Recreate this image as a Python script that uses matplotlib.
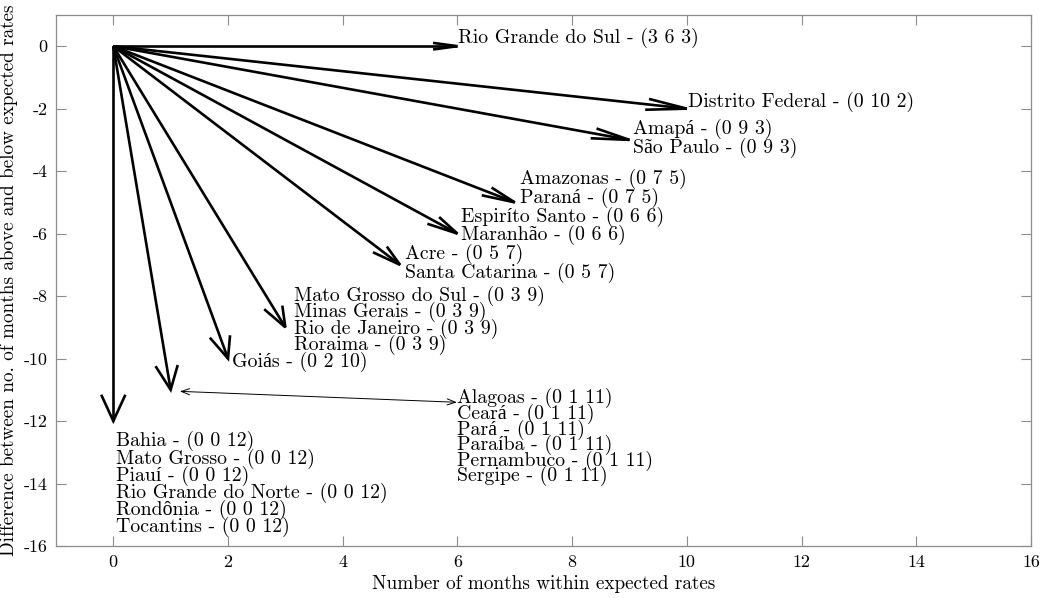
import matplotlib
matplotlib.use("Agg")
import matplotlib.pyplot as plt
from matplotlib.patches import FancyArrowPatch

plt.rcParams['font.family'] = ['cmr10', 'Liberation Serif']
plt.rcParams['axes.unicode_minus'] = False
plt.rcParams['mathtext.fontset'] = 'cm'

# ---- data: (months above, within, below expected rates) ----
states = ["Rio Grande do Sul", "Distrito Federal", "Amapá", "São Paulo",
          "Amazonas", "Paraná", "Espiríto Santo", "Maranhão", "Acre",
          "Santa Catarina", "Mato Grosso do Sul", "Minas Gerais",
          "Rio de Janeiro", "Roraima", "Goiás", "Alagoas", "Ceará", "Pará",
          "Paraíba", "Pernambuco", "Sergipe", "Bahia", "Mato Grosso", "Piauí",
          "Rio Grande do Norte", "Rondônia", "Tocantins"]
above = [3, 0, 0, 0, 0, 0, 0, 0, 0, 0, 0, 0, 0, 0, 0, 0, 0, 0, 0, 0, 0,
         0, 0, 0, 0, 0, 0]
within = [6, 10, 9, 9, 7, 7, 6, 6, 5, 5, 3, 3, 3, 3, 2, 1, 1, 1, 1, 1, 1,
          0, 0, 0, 0, 0, 0]
below = [3, 2, 3, 3, 5, 5, 6, 6, 7, 7, 9, 9, 9, 9, 10, 11, 11, 11, 11, 11,
         11, 12, 12, 12, 12, 12, 12]

x_ticks = list(range(0, 17, 2))
y_ticks = list(range(0, -17, -2))

# group states by arrow end point
groups = {}
for n, a, w, b in zip(states, above, within, below):
    key = (w, a - b)
    groups.setdefault(key, []).append(f"{n} - ({a} {w} {b})")

# label offsets relative to arrow tip and line spacing (layout only)
label_layout = {
    (6, 0): (0.01, 0.26, 0.88),
    (10, -2): (0.02, 0.21, 0.88),
    (9, -3): (0.06, 0.05, 0.88),
    (7, -5): (0.09, 0.45, 0.88),
    (6, -6): (0.06, 0.25, 0.85),
    (5, -7): (0.08, 0.05, 0.88),
    (3, -9): (0.15, 0.22, 0.76),
    (2, -10): (0.07, -0.12, 0.88),
    (1, -11): (5.0, -1.52, 0.70),
    (0, -12): (0.05, -2.02, 0.80),
}

# quiver-style arrow head parameters (fractions of the arrow vector)
alpha, beta = 0.067, 0.25

fig = plt.figure(figsize=(10.42, 5.98), dpi=100)
ax = fig.add_axes([0.0537, 0.087, 0.9357, 0.888])
ax.set_xlim(-1, 16)
ax.set_ylim(-16, 1)

for (u, v), labels in groups.items():
    ax.plot([0, u], [0, v], color='black', lw=1.9, solid_capstyle='butt', zorder=3)
    hx = [u - alpha * (u + beta * v), u, u - alpha * (u - beta * v)]
    hy = [v - alpha * (v - beta * u), v, v - alpha * (v + beta * u)]
    ax.plot(hx, hy, color='black', lw=1.9, solid_joinstyle='miter', zorder=3)
    dx, dy, ls = label_layout[(u, v)]
    ax.text(u + dx, v + dy, "\n".join(labels), ha='left', va='center',
            fontsize=14.3, linespacing=ls)

# thin connector for the (0 1 11) group
ax.add_patch(FancyArrowPatch((1.16, -11.05), (5.99, -11.40),
                             arrowstyle="<->,head_length=6,head_width=2.2",
                             mutation_scale=1, lw=0.7, color='black',
                             shrinkA=0, shrinkB=0))

ax.set_xticks(x_ticks)
ax.set_yticks(y_ticks)
ax.set_xticklabels([str(t) for t in x_ticks])
ax.set_yticklabels([str(t) for t in y_ticks])
ax.tick_params(direction='in', length=7, width=0.8, color='#8c8c8c',
               top=True, right=True, labelsize=13, pad=6)
for s in ax.spines.values():
    s.set_color('#8c8c8c')
    s.set_linewidth(0.9)

ax.set_xlabel("Number of months within expected rates", fontsize=13.8, labelpad=4)
ax.set_ylabel("Difference between no. of months above and below expected rates",
              fontsize=13.8, labelpad=4)

fig.savefig("out.png", dpi=100)
